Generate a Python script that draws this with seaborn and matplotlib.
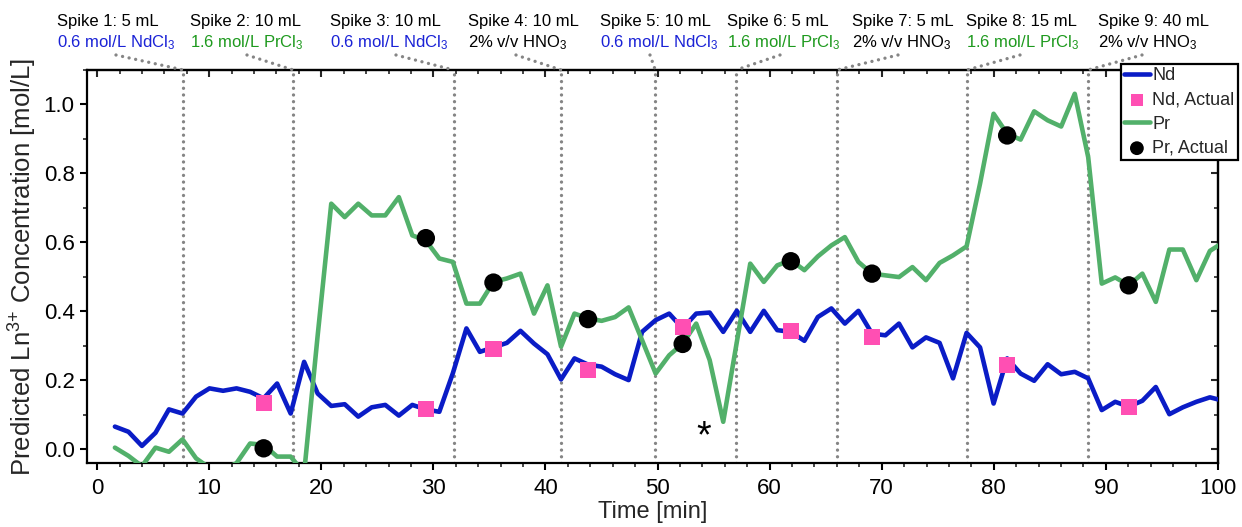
import numpy as np
import pandas as pd
import matplotlib
matplotlib.use("Agg")
import matplotlib.pyplot as plt
import seaborn as sns
from matplotlib.ticker import MultipleLocator

# ---------------- data ----------------
time_min = [1.59, 2.80, 4.00, 5.21, 6.41, 7.62, 8.83, 10.03, 11.24, 12.44,
            13.65, 14.86, 16.06, 17.27, 18.47, 19.68, 20.89, 22.09, 23.30, 24.50,
            25.71, 26.92, 28.12, 29.33, 30.53, 31.74, 32.95, 34.15, 35.36, 36.56,
            37.77, 38.98, 40.18, 41.39, 42.59, 43.80, 45.01, 46.21, 47.42, 48.62,
            49.83, 51.04, 52.24, 53.45, 54.65, 55.86, 57.07, 58.27, 59.48, 60.68,
            61.89, 63.10, 64.30, 65.51, 66.71, 67.92, 69.13, 70.33, 71.54, 72.74,
            73.95, 75.16, 76.36, 77.57, 78.77, 79.98, 81.19, 82.39, 83.60, 84.80,
            86.01, 87.22, 88.42, 89.63, 90.83, 92.04, 93.25, 94.45, 95.66, 96.86,
            98.07, 99.28, 100.48]

nd_pred = [0.065, 0.050, 0.009, 0.047, 0.115, 0.103, 0.152, 0.176, 0.169, 0.176,
           0.166, 0.147, 0.190, 0.103, 0.253, 0.161, 0.125, 0.130, 0.094, 0.121,
           0.128, 0.097, 0.128, 0.115, 0.108, 0.220, 0.350, 0.282, 0.295, 0.308,
           0.343, 0.306, 0.275, 0.202, 0.263, 0.245, 0.239, 0.217, 0.200, 0.340,
           0.374, 0.393, 0.350, 0.393, 0.396, 0.340, 0.401, 0.340, 0.401, 0.345,
           0.340, 0.314, 0.383, 0.408, 0.364, 0.401, 0.335, 0.330, 0.364, 0.295,
           0.324, 0.308, 0.205, 0.337, 0.295, 0.132, 0.263, 0.219, 0.198, 0.246,
           0.217, 0.224, 0.205, 0.113, 0.137, 0.123, 0.140, 0.180, 0.101, 0.121,
           0.137, 0.150, 0.140]

pr_pred = [0.004, -0.020, -0.050, 0.004, -0.008, 0.028, -0.027, -0.055, -0.060, -0.041,
           0.016, 0.012, -0.022, -0.022, -0.070, 0.330, 0.712, 0.673, 0.712, 0.678,
           0.678, 0.731, 0.620, 0.605, 0.553, 0.543, 0.422, 0.422, 0.485, 0.495,
           0.509, 0.393, 0.475, 0.297, 0.393, 0.379, 0.372, 0.383, 0.411, 0.316,
           0.219, 0.272, 0.306, 0.364, 0.258, 0.079, 0.310, 0.538, 0.485, 0.533,
           0.548, 0.519, 0.559, 0.591, 0.615, 0.543, 0.509, 0.504, 0.499, 0.528,
           0.490, 0.540, 0.562, 0.588, 0.770, 0.973, 0.915, 0.898, 0.980, 0.954,
           0.936, 1.031, 0.847, 0.480, 0.498, 0.475, 0.509, 0.427, 0.579, 0.579,
           0.490, 0.575, 0.600]

actual_time = [14.86, 29.33, 35.36, 43.80, 52.24, 61.89, 69.13, 81.19, 92.04]
nd_actual = [0.133, 0.115, 0.290, 0.229, 0.355, 0.343, 0.324, 0.243, 0.123]
pr_actual = [0.002, 0.612, 0.483, 0.377, 0.305, 0.545, 0.509, 0.910, 0.475]

spike_time = [7.7, 17.5, 31.8, 41.4, 49.8, 57.0, 66.0, 77.6, 88.4]
spike_volume = ["5 mL", "10 mL", "10 mL", "10 mL", "10 mL", "5 mL", "5 mL", "15 mL", "40 mL"]
spike_solution = ["0.6 mol/L NdCl$_\\mathregular{3}$", "1.6 mol/L PrCl$_\\mathregular{3}$",
                  "0.6 mol/L NdCl$_\\mathregular{3}$", "2% v/v HNO$_\\mathregular{3}$",
                  "0.6 mol/L NdCl$_\\mathregular{3}$", "1.6 mol/L PrCl$_\\mathregular{3}$",
                  "2% v/v HNO$_\\mathregular{3}$", "1.6 mol/L PrCl$_\\mathregular{3}$",
                  "2% v/v HNO$_\\mathregular{3}$"]
spike_kind = ["Nd", "Pr", "Nd", "acid", "Nd", "Pr", "acid", "Pr", "acid"]

# ---------------- style ----------------
ND_COLOR = "#0A1CC6"
PR_COLOR = "#52B06A"
PINK = "#FF4FB3"
DOT_GRAY = "#858585"
TEXT_COLORS = {"Nd": "#1A22D6", "Pr": "#1E9A1E", "acid": "#000000"}

sns.set_theme(style="ticks")
plt.rcParams["font.family"] = ["Liberation Sans", "DejaVu Sans"]
plt.rcParams["mathtext.fontset"] = "custom"
plt.rcParams["mathtext.rm"] = "Liberation Sans"
plt.rcParams["mathtext.it"] = "Liberation Sans:italic"
plt.rcParams["mathtext.bf"] = "Liberation Sans:bold"

W, H = 1242, 527
fig = plt.figure(figsize=(W / 100, H / 100), dpi=100)
ax_l, ax_r, ax_t, ax_b = 87, 1218, 70, 463
ax = fig.add_axes([ax_l / W, (H - ax_b) / H, (ax_r - ax_l) / W, (ax_b - ax_t) / H])

df = pd.DataFrame({"Time": time_min, "Nd": nd_pred, "Pr": pr_pred})
act = pd.DataFrame({"Time": actual_time, "Nd": nd_actual, "Pr": pr_actual})

dot_ls = (0, (0.01, 2.0))
for t in spike_time:
    ax.axvline(t, color=DOT_GRAY, lw=2.4, ls=dot_ls, dash_capstyle="round", zorder=1)

sns.lineplot(data=df, x="Time", y="Nd", ax=ax, color=ND_COLOR, lw=3.3,
             sort=False, estimator=None, label="Nd", zorder=3)
sns.lineplot(data=df, x="Time", y="Pr", ax=ax, color=PR_COLOR, lw=3.3,
             sort=False, estimator=None, label="Pr", zorder=3)
sns.scatterplot(data=act, x="Time", y="Nd", ax=ax, marker="s", s=135, color=PINK,
                edgecolor="none", linewidth=0, label="Nd, Actual", zorder=5)
sns.scatterplot(data=act, x="Time", y="Pr", ax=ax, marker="o", s=175, color="black",
                edgecolor="none", linewidth=0, label="Pr, Actual", zorder=5)

ax.set_xlim(-0.9, 100)
ax.set_ylim(-0.0406, 1.1)
ax.xaxis.set_major_locator(MultipleLocator(10))
ax.xaxis.set_minor_locator(MultipleLocator(2))
ax.yaxis.set_major_locator(MultipleLocator(0.2))
ax.yaxis.set_minor_locator(MultipleLocator(0.1))
ax.yaxis.set_major_formatter(matplotlib.ticker.FormatStrFormatter("%.1f"))

for sp in ax.spines.values():
    sp.set_visible(True)
    sp.set_linewidth(1.6)
    sp.set_color("black")

ax.tick_params(which="major", direction="out", length=5, width=1.5, labelsize=16,
               colors="black")
ax.tick_params(axis="x", which="major", pad=6)
ax.tick_params(axis="y", which="major", pad=4)
ax.tick_params(which="minor", direction="out", length=3, width=1.2)

secx = ax.secondary_xaxis("top")
secx.xaxis.set_major_locator(MultipleLocator(10))
secx.xaxis.set_minor_locator(MultipleLocator(2))
secx.tick_params(which="major", direction="in", length=5, width=1.5, labeltop=False, labelbottom=False)
secx.tick_params(which="minor", direction="in", length=3, width=1.2)
secx.spines["top"].set_linewidth(1.6)

secy = ax.secondary_yaxis("right")
secy.yaxis.set_major_locator(MultipleLocator(0.2))
secy.yaxis.set_minor_locator(MultipleLocator(0.1))
secy.tick_params(which="major", direction="in", length=5, width=1.5, labelright=False, labelleft=False)
secy.tick_params(which="minor", direction="in", length=3, width=1.2)
secy.spines["right"].set_linewidth(1.6)

ax.set_xlabel("Time [min]", fontsize=17, labelpad=1)
ax.set_ylabel("Predicted Ln$^{\\mathregular{3{+}}}$ Concentration [mol/L]", fontsize=18.5, labelpad=3)

# asterisk marking the outlier
ax.text(54.1, 0.035, "*", fontsize=27, ha="center", va="center", color="black")

# legend
handles, labels = ax.get_legend_handles_labels()
order = ["Nd", "Nd, Actual", "Pr", "Pr, Actual"]
hmap = dict(zip(labels, handles))
leg = ax.legend([hmap[k] for k in order], order, loc="upper left",
                bbox_to_anchor=(1121 / W, 1 - 64 / H), bbox_transform=fig.transFigure,
                fontsize=13, frameon=True, fancybox=False, framealpha=1,
                edgecolor="black", borderpad=0.18, borderaxespad=0,
                handlelength=1.4, handletextpad=0.15, labelspacing=0.4,
                markerscale=0.75)
leg.get_frame().set_linewidth(1.6)
leg.set_zorder(10)

# spike annotations above the plot
text_left_px = [57, 190, 330, 468, 600, 727, 852, 966, 1098]
conn_start_px = [116, 247, 396, 516, 650, 780, 898, 1020, 1142]
for i, t in enumerate(spike_time):
    x0 = text_left_px[i] / W
    fig.text(x0, 1 - 26 / H, f"Spike {i + 1}: {spike_volume[i]}", fontsize=12,
             ha="left", va="baseline", color="black")
    fig.text(x0, 1 - 47 / H, spike_solution[i], fontsize=12, ha="left", va="baseline",
             color=TEXT_COLORS[spike_kind[i]])
    ax.annotate("", xy=(t, 1.0), xycoords=ax.get_xaxis_transform(),
                xytext=(conn_start_px[i], H - 55), textcoords="figure pixels",
                arrowprops=dict(arrowstyle="-", color=DOT_GRAY, lw=2.4, linestyle=dot_ls,
                                capstyle="round", shrinkA=0, shrinkB=0),
                annotation_clip=False)

fig.savefig("out.png", dpi=100)
